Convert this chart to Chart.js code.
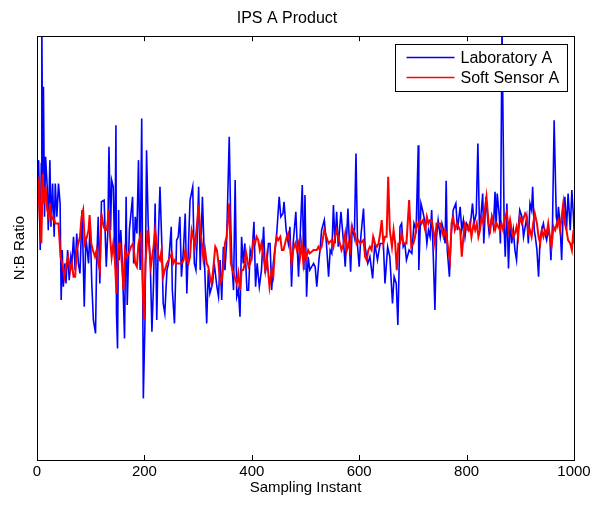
<!DOCTYPE html>
<html>
<head>
<meta charset="utf-8">
<script src="https://cdn.jsdelivr.net/npm/chart.js@4/dist/chart.umd.min.js"></script>
<style>
html, body { margin: 0; padding: 0; background: #fff; }
</style>
</head>
<body>
<canvas id="myChart" width="596" height="510"></canvas>
<script>
// Data (y in arbitrary N:B ratio units, axis has no labels)
const labSample = [0,3,6,8,9,11,12,14,16,19,21,24,26,29,32,34,37,40,43,45,47,49,52,54,57,60,63,65,68,71,74,77,80,84,88,91,96,99,102,105,109,111,114,117,120,125,129,132,134,137,139,142,145,147,148,150,152,153,156,159,163,166,168,172,
  178,180,183,186,189,192,195,198,201,204,207,211,214,217,220,223,226,229,232,235,238,242,245,250,252,256,260,263,266,269,273,276,279,282,285,290,293,296,298,301,304,308,312,316,319,322,327,330,335,338,341,344,347,
  350,353,358,361,363,366,369,372,375,378,381,384,387,391,394,397,400,404,407,410,414,418,422,425,428,431,434,437,440,443,446,451,454,458,460,464,468,471,474,477,482,487,490,494,497,499,502,505,508,515,518,521,525,
  527,530,535,539,543,546,549,552,555,558,561,566,571,574,579,584,587,591,594,597,600,603,608,611,616,620,625,629,634,639,645,648,653,657,662,665,669,672,676,679,682,685,688,693,698,
  702,706,710,711,715,718,723,726,729,732,735,738,741,744,747,751,754,757,760,762,764,768,771,775,780,783,788,791,794,797,800,806,811,814,818,821,824,826,830,832,836,839,842,847,850,853,855,857,861,863,866,870,872,875,
  878,881,884,887,890,893,896,899,903,906,909,912,915,918,921,923,926,928,931,934,937,940,943,946,949,952,955,957,960,963,967,969,971,974,977,980,983,986,989,993,996,999,1000]
const labRatio = [72,90,63,89,130,79,112,73,91,82,69,90,70,83,67,83,73,83,77,48,63,52,59,53,63,54,61,59,67,57,68,59,56,75,46,67,59,71,53,42,38,59,73,53,77.5,78,58,69,94,69,84,82,60,100.5,44,33.5,75,60,69,59,36.5,79,46.5,69,
  79,59,73,68,90,57,102.5,18.5,41,93,71,59,38.5,53,77,42,67,82,67,47,44,57,59,70,51,41,66,67,73,55,64,74,50,64,78,82,59,57,65,82,57,79,59,41,57,50,53,59,52,49,60,48,64,
  57,65,97,69,59,51,84,49,51,43,67,59,65,51,51,63,61,71.5,52,59,52,57,70,56,59,65,65,51,59,63,67,79,73,74,77.5,69,65,70,52,65,74.5,55,67,82.5,57,79.5,49,61,57,59,58,52,60,
  63,69,72,65,55,63,62,76.5,65,74.5,64,74.5,65,58,75.5,56.5,70,67,92,64,58,67,75.5,64,59,61,54.5,65,60,65,65,53,64,61,47,55,53,40.5,70,71,64,65,60,63,62,
  71,69,94.5,57,77,75,71,65,69,67,75,61,45,67,72,67,71,69,65,83.8,63,55,67,75,77,69,76,69,72,67,71,69,77,71,74,95,69,72,80,65,79,73,68,73,70,80.5,70,80,73,65,130,69,61,77,
  57.5,72,65,69,63,60,69,75,73,67,70,73,65,77,75,82,69,67,63,55,67,69,71,68,66,69,67,60,71,102,73,71,76,71,60,75,79,69,80,69,81,73,69]

const softSample = [0,4,8,11,13,16,19,22,24,27,30,34,37,40,44,47,51,55,58,62,65,68,71,74,77,80,83,86,89,93,96,98,101,104,108,111,114,117,120,124,127,130,134,136,139,142,145,148,152,155,158,161,164,167,171,
  175,179,183,186,189,192,194,196,199,202,206,209,212,217,220,223,226,229,232,235,238,242,245,251,254,257,260,265,269,273,276,279,282,285,288,291,294,297,301,304,307,310,313,316,319,322,325,328,332,335,338,341,344,348,
  350,353,358,361,364,368,372,375,378,381,384,387,389,394,397,400,403,406,409,412,415,418,422,425,428,433,437,440,443,446,449,453,456,459,462,465,468,471,474,477,481,484,487,490,493,496,499,502,505,508,515,521,
  524,527,530,535,539,543,549,552,555,558,561,564,567,571,574,577,580,583,586,589,592,595,598,602,608,611,614,617,620,623,626,629,633,636,639,642,645,648,651,654,657,661,664,667,670,673,676,679,682,688,693,697,
  701,704,707,710,713,716,719,723,726,729,732,735,738,741,744,751,754,757,760,763,766,769,772,775,778,782,788,791,794,797,803,806,809,813,816,819,822,825,828,831,834,837,841,844,847,850,853,856,862,865,868,872,875,
  878,881,884,887,890,893,896,899,903,909,912,915,918,921,924,927,931,934,937,940,943,946,949,952,955,958,962,965,968,971,974,977,980,983,986,989,993,996,999,1000]
const softRatio = [71,85,65,86,77,82,75,73,77,72,73,71,71,71,61,59,55,59,61,57,59,55,55,63,65,67,73,75,65,67,69,73.5,65,63,61,63,59,57,74,70,69,69,75,67,61,65,60,50,65,65,59,51,63,61,62,
  64,65,59,58,65,67,68,57,42,59,69,64,58,64,69,65,61,60,63,55,57,59,60,62,59,60,59,59,59,60,63,60,59,61,69,67,64,69,76.5,69,65,60,63,59,58,55,53,57,64,63,59,53,54,60,
  65,67,77,59,57,55,53,56,51,57,57,59,62.5,58,59,61,66,65,67,66,63,65,61,57,61,52,57,55,63,67,66,67,63,63,65,67,68,65,59,63,65,63,65,61,65,59,63,61,63,62,63,63,
  64,63,64,69,67,65,66,64,67,69,67,65,63,65,68,63,65,63,70,69,68,65,66,65,66,61,60,63,64,63,67,65,64,65,68,72,65,67,67,85,69,64,69,65,57,65,65,68,65,65,78,64,
  65,67,71,70,72,71,72,69,73,71,72,72,69,65,71,71,69,67,69,67,63,60,71,73,69,71,69,61,67,71,69,71,67,71,69,71,67,69,73,71,75,79,71,69,73,71,69,71,69,71,69,73,74.5,
  69,72,69,67,68,70,67,73,71,74,73,68,69,67,71,74,71,67,65,69,67,69,68,71,67,64,70,69,71,72,69,73,77,71,69,66,65,63,69,65]

const xTicks = [0, 200, 400, 600, 800, 1000]
const seriesNames = ['Laboratory A', 'Soft Sensor A']

const fontFamily = "'Liberation Sans', Arial, Helvetica, sans-serif"
const toPoints = (xs, ys) => xs.map((x, i) => ({ x: x, y: ys[i] }))

// MATLAB-like box with inward ticks, plus legend box in top right
const matlabFrame = {
  id: 'matlabFrame',
  afterDraw(chart) {
    const { ctx, chartArea: a, scales: { x } } = chart
    ctx.save()
    ctx.strokeStyle = '#000'
    ctx.lineWidth = 1
    ctx.strokeRect(Math.round(a.left) + 0.5, Math.round(a.top) + 0.5, Math.round(a.right - a.left), Math.round(a.bottom - a.top))
    xTicks.forEach(t => {
      const px = Math.round(x.getPixelForValue(t)) + 0.5
      ctx.beginPath()
      ctx.moveTo(px, a.bottom); ctx.lineTo(px, a.bottom - 5)
      ctx.moveTo(px, a.top); ctx.lineTo(px, a.top + 5)
      ctx.stroke()
    })
    // legend
    const bw = 172, bh = 47
    const bx = Math.round(a.right) - 7 - bw + 0.5
    const by = Math.round(a.top) + 8 + 0.5
    ctx.fillStyle = '#fff'
    ctx.fillRect(bx, by, bw, bh)
    ctx.strokeRect(bx, by, bw, bh)
    ctx.font = '16px ' + fontFamily
    ctx.textBaseline = 'middle'
    ctx.textAlign = 'left'
    chart.data.datasets.forEach((ds, i) => {
      const ly = by + 13 + i * 20
      ctx.strokeStyle = ds.borderColor
      ctx.lineWidth = 1.5
      ctx.beginPath()
      ctx.moveTo(bx + 11, ly); ctx.lineTo(bx + 59, ly)
      ctx.stroke()
      ctx.fillStyle = '#000'
      ctx.fillText(ds.label, bx + 65, ly + 1)
    })
    ctx.restore()
  }
}

const myChart = new Chart(document.getElementById('myChart'), {
  type: 'line',
  data: {
    datasets: [
      { label: seriesNames[0], data: toPoints(labSample, labRatio), borderColor: '#0000ff', borderWidth: 1.6, order: 2 },
      { label: seriesNames[1], data: toPoints(softSample, softRatio), borderColor: '#ff0000', borderWidth: 2, order: 1 }
    ]
  },
  options: {
    responsive: false,
    animation: false,
    devicePixelRatio: 1,
    layout: { padding: { top: 0, right: 22, bottom: 0, left: 0 } },
    elements: { point: { radius: 0 }, line: { tension: 0, fill: false } },
    plugins: {
      legend: { display: false },
      tooltip: { enabled: false },
      title: {
        display: true, text: 'IPS A Product', color: '#000',
        font: { family: fontFamily, size: 16, weight: 'normal' },
        padding: { top: 9, bottom: 8 }
      }
    },
    scales: {
      x: {
        type: 'linear', min: 0, max: 1000,
        grid: { display: false, drawTicks: false },
        border: { display: false },
        afterBuildTicks: s => { s.ticks = xTicks.map(v => ({ value: v })) },
        ticks: { color: '#000', font: { family: fontFamily, size: 15 }, padding: 3, maxRotation: 0, autoSkip: false, callback: v => String(v) },
        title: { display: true, text: 'Sampling Instant', color: '#000', font: { family: fontFamily, size: 15 }, padding: { top: 0, bottom: 13 } },
        afterFit: s => { s.height = 50 }
      },
      y: {
        min: 0, max: 127.2,
        grid: { display: false, drawTicks: false },
        border: { display: false },
        ticks: { display: false },
        title: { display: true, text: 'N:B Ratio', color: '#000', font: { family: fontFamily, size: 15 }, padding: { top: 11, bottom: 0 } },
        afterFit: s => { s.width = 37 }
      }
    }
  },
  plugins: [matlabFrame]
})
</script>
</body>
</html>
